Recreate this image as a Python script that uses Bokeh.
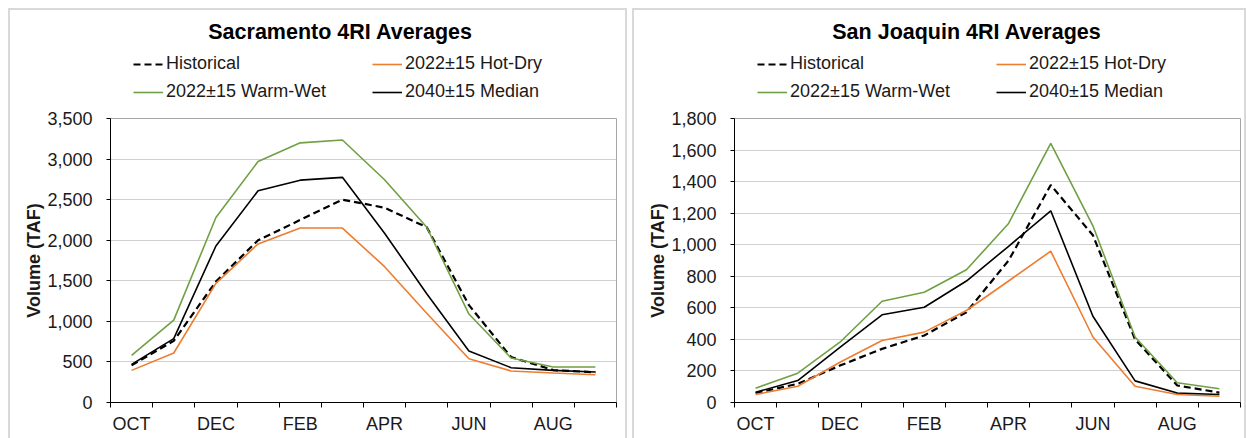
from bokeh.plotting import figure
from bokeh.models import (Range1d, FixedTicker, NumeralTickFormatter, Legend, LegendItem, Label)
from bokeh.layouts import row, column
from bokeh.embed import file_html
from bokeh.resources import INLINE

months = ["OCT", "NOV", "DEC", "JAN", "FEB", "MAR", "APR", "MAY", "JUN", "JUL", "AUG", "SEP"]
series_names = ["Historical", "2022±15 Hot-Dry", "2022±15 Warm-Wet", "2040±15 Median"]

sac_historical = [457, 760, 1490, 2000, 2250, 2500, 2400, 2160, 1200, 560, 400, 372]
sac_hot_dry    = [396, 610, 1468, 1954, 2150, 2150, 1674, 1100, 540, 388, 363, 342]
sac_warm_wet   = [581, 1015, 2280, 2970, 3200, 3235, 2745, 2160, 1090, 548, 437, 437]
sac_median     = [470, 787, 1929, 2610, 2740, 2775, 2086, 1340, 634, 429, 396, 375]

sj_historical = [60, 118, 234, 340, 425, 572, 900, 1378, 1060, 400, 108, 63]
sj_hot_dry    = [51, 103, 255, 393, 446, 583, 770, 959, 415, 103, 51, 40]
sj_warm_wet   = [91, 186, 382, 642, 699, 841, 1135, 1643, 1120, 415, 125, 87]
sj_median     = [65, 139, 350, 556, 604, 770, 990, 1215, 547, 137, 60, 51]

sac_ticks = [0, 500, 1000, 1500, 2000, 2500, 3000, 3500]
sj_ticks = [0, 200, 400, 600, 800, 1000, 1200, 1400, 1600, 1800]

FONT = "Liberation Sans"
TXT = "#1a1a1a"
BORDER = "2px solid #d9d9d9"
COLORS = ["#000000", "#ED7D31", "#70A043", "#000000"]
DASHES = ["7 4", "solid", "solid", "solid"]
WIDTHS = [2.2, 1.6, 1.6, 1.6]

HEADER_H = 100   # outer height of the title/legend strip
MAIN_H = 330     # outer height of the chart strip
FRAME_W = 502    # chart frame width (header frame is aligned to it)

xs = [i + 0.5 for i in range(len(months))]


def header(title, data, width, margin_left):
    ch = HEADER_H - 2
    h = figure(width=width, height=HEADER_H, x_range=Range1d(0, FRAME_W), y_range=Range1d(0, ch),
               x_axis_type=None, y_axis_type=None, output_backend="svg", toolbar_location=None,
               min_border_left=0, min_border_right=0, min_border_top=0, min_border_bottom=0,
               margin=(8, 0, 0, margin_left))
    h.styles = {"border": BORDER, "border-bottom": "none", "box-sizing": "border-box"}
    h.outline_line_color = None
    h.xgrid.visible = False
    h.ygrid.visible = False

    # legend-only copies of the series (hidden), so the legend can show their styles
    rends = []
    for vals, c, d, w in zip(data, COLORS, DASHES, WIDTHS):
        rends.append(h.line(xs, vals, line_color=c, line_width=w, line_dash=d, visible=False))

    common = dict(label_text_font=FONT, label_text_font_size="18px", label_text_color=TXT,
                  glyph_width=30, glyph_height=20, label_height=20, label_width=198,
                  label_standoff=3, spacing=8, padding=0, margin=0, orientation="horizontal",
                  border_line_color=None, background_fill_alpha=0, inactive_fill_alpha=0)
    top_row = Legend(items=[LegendItem(label=series_names[0], renderers=[rends[0]]),
                            LegendItem(label=series_names[1], renderers=[rends[1]])],
                     location=(23, 36), **common)
    bottom_row = Legend(items=[LegendItem(label=series_names[2], renderers=[rends[2]]),
                               LegendItem(label=series_names[3], renderers=[rends[3]])],
                        location=(23, 8), **common)
    h.add_layout(top_row, "center")
    h.add_layout(bottom_row, "center")

    t = Label(x=97, y=ch - 21, text=title, text_font=FONT, text_font_size="21.5px",
              text_font_style="bold", text_color="#000000", text_baseline="middle",
              text_align="left")
    h.add_layout(t)
    return h


def chart(data, ymax, yticks, width, right_border, margin_left):
    p = figure(width=width, height=MAIN_H, x_range=Range1d(0, 12), y_range=Range1d(0, ymax),
               output_backend="svg", toolbar_location=None,
               min_border_left=100, min_border_right=right_border,
               min_border_top=10, min_border_bottom=36,
               margin=(0, 0, 0, margin_left))
    p.styles = {"border-left": BORDER, "border-right": BORDER, "box-sizing": "border-box"}
    p.outline_line_color = "#a6a6a6"
    p.background_fill_color = "white"

    for vals, c, d, w in zip(data, COLORS, DASHES, WIDTHS):
        p.line(xs, vals, line_color=c, line_width=w, line_dash=d)

    xa = p.xaxis[0]
    label_pos = [i + 0.5 for i in range(0, 12, 2)]
    xa.ticker = FixedTicker(ticks=label_pos, minor_ticks=list(range(13)))
    xa.major_label_overrides = {i + 0.5: months[i] for i in range(0, 12, 2)}
    xa.major_tick_out = 0
    xa.major_tick_in = 0
    xa.minor_tick_out = 5
    xa.minor_tick_in = 0
    xa.minor_tick_line_color = "#000000"
    xa.axis_line_color = "#000000"
    xa.major_label_text_font = FONT
    xa.major_label_text_font_size = "18px"
    xa.major_label_text_color = TXT
    xa.major_label_standoff = 6

    ya = p.yaxis[0]
    ya.ticker = FixedTicker(ticks=yticks)
    ya.formatter = NumeralTickFormatter(format="0,0")
    ya.major_tick_out = 4
    ya.major_tick_in = 0
    ya.minor_tick_out = 0
    ya.minor_tick_in = 0
    ya.axis_line_color = "#000000"
    ya.major_tick_line_color = "#000000"
    ya.major_label_text_font = FONT
    ya.major_label_text_font_size = "18px"
    ya.major_label_text_color = TXT
    ya.major_label_standoff = 14
    ya.axis_label = "Volume (TAF)"
    ya.axis_label_text_font = FONT
    ya.axis_label_text_font_size = "18px"
    ya.axis_label_text_font_style = "bold"
    ya.axis_label_text_color = TXT
    ya.axis_label_standoff = 0

    p.xgrid.visible = False
    p.ygrid.ticker = FixedTicker(ticks=yticks[1:])
    p.ygrid.grid_line_color = "#a0a0a0"
    p.ygrid.grid_line_dash = "1 1"
    p.ygrid.grid_line_width = 1
    return p


sac = [sac_historical, sac_hot_dry, sac_warm_wet, sac_median]
sj = [sj_historical, sj_hot_dry, sj_warm_wet, sj_median]

h1 = header("Sacramento 4RI Averages", sac, 619, 8)
c1 = chart(sac, 3500, sac_ticks, 619, 13, 8)
h2 = header("San Joaquin 4RI Averages", sj, 614, 5)
c2 = chart(sj, 1800, sj_ticks, 614, 8, 5)

layout = row(column(h1, c1), column(h2, c2))
open("out.html", "w").write(file_html(layout, INLINE))
